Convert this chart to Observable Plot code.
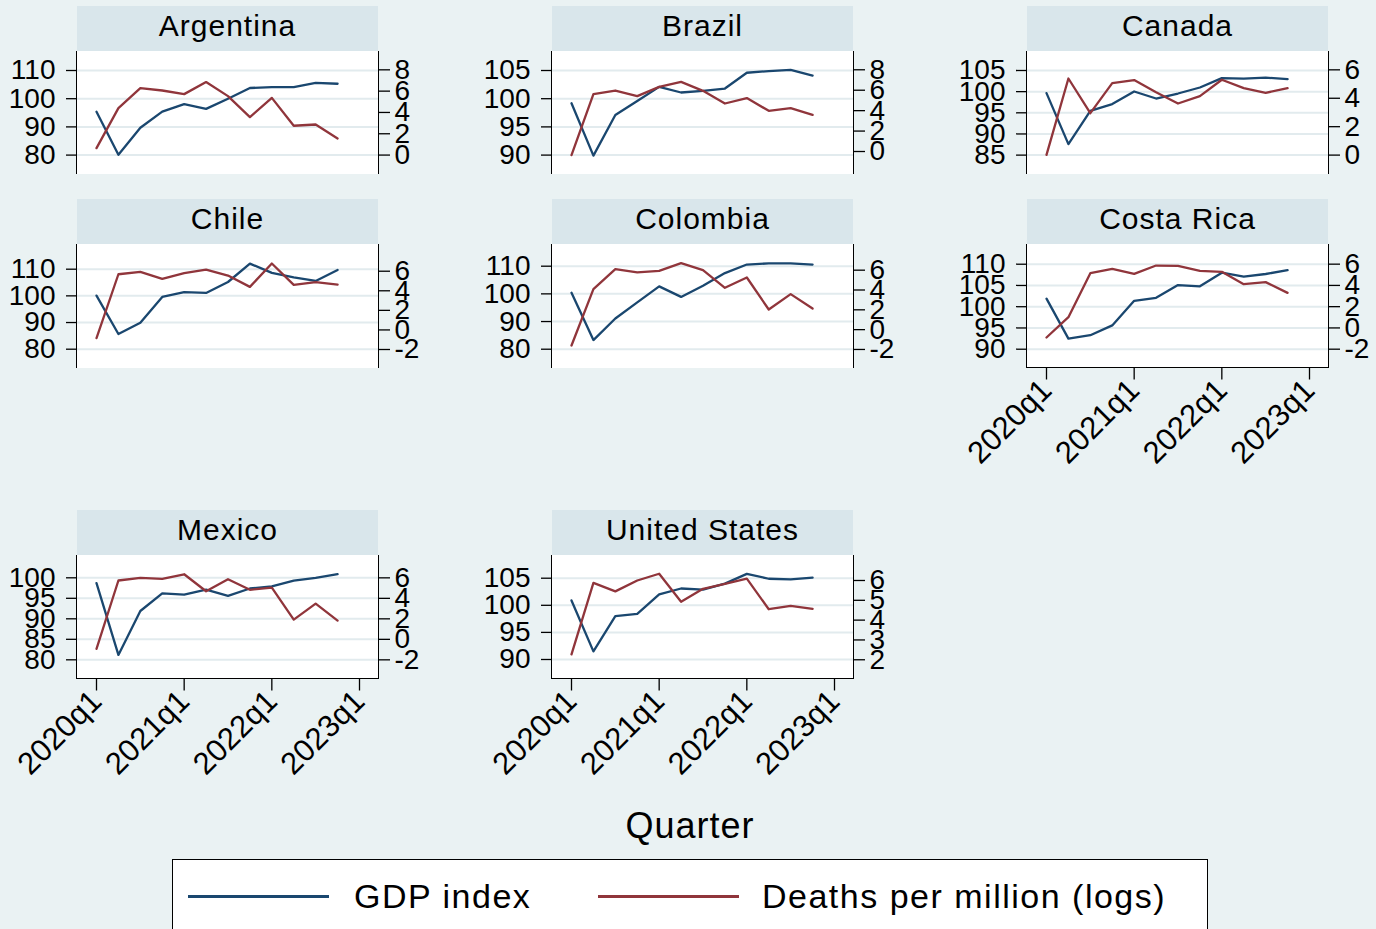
<!DOCTYPE html>
<html><head><meta charset="utf-8">
<script src="https://cdn.jsdelivr.net/npm/d3@7"></script>
<script src="https://cdn.jsdelivr.net/npm/@observablehq/plot@0.6"></script>
<style>
body{margin:0;background:#eaf2f3;font-family:"Liberation Sans",Arial,Helvetica,sans-serif;}
#chart{position:relative;width:1376px;height:929px;overflow:hidden;background:#eaf2f3;color:#000;}
.strip{position:absolute;background:#d9e6eb;text-align:center;font-size:30px;letter-spacing:1px;line-height:39px;white-space:nowrap;}
.region{position:absolute;background:#fff;box-sizing:border-box;border-left:1.3px solid #000;border-right:1.3px solid #000;}
.layer{position:absolute;}
.layer svg{overflow:visible;max-width:none !important;}
.txt{position:absolute;white-space:nowrap;}
.swatch{position:absolute;height:3px;}
</style></head><body><div id="chart"></div>
<script>
// ---- data ----
const quarters = ["2020q1","2020q2","2020q3","2020q4","2021q1","2021q2","2021q3","2021q4","2022q1","2022q2","2022q3","2022q4"];
const xTickLabels = ["2020q1","2021q1","2022q1","2023q1"];
const countries = ["Argentina","Brazil","Canada","Chile","Colombia","Costa Rica","Mexico","United States"];

const argentinaGdp    = [95.4, 80.1, 89.7, 95.4, 98.1, 96.4, 100.0, 103.8, 104.1, 104.1, 105.6, 105.3];
const argentinaDeaths = [0.65, 4.41, 6.28, 6.06, 5.72, 6.85, 5.53, 3.56, 5.37, 2.75, 2.87, 1.56];
const brazilGdp       = [99.2, 89.9, 97.1, 99.6, 102.1, 101.1, 101.4, 101.8, 104.6, 104.9, 105.1, 104.1];
const brazilDeaths    = [-0.36, 5.62, 5.97, 5.42, 6.33, 6.82, 5.94, 4.70, 5.23, 3.98, 4.25, 3.59];
const canadaGdp       = [99.66, 87.6, 95.47, 97.06, 100.04, 98.38, 99.56, 100.98, 103.2, 103.1, 103.3, 102.97];
const canadaDeaths    = [0.02, 5.39, 2.95, 5.06, 5.28, 4.43, 3.63, 4.15, 5.30, 4.71, 4.38, 4.71];
const chileGdp        = [100.1, 85.7, 89.9, 99.6, 101.4, 101.1, 105.2, 112.1, 108.6, 106.9, 105.6, 109.7];
const chileDeaths     = [-0.84, 5.69, 5.93, 5.21, 5.80, 6.17, 5.56, 4.40, 6.79, 4.60, 4.88, 4.64];
const colombiaGdp     = [100.4, 83.3, 91.1, 96.9, 102.7, 98.9, 102.9, 107.5, 110.6, 111.0, 111.0, 110.6];
const colombiaDeaths  = [-1.60, 4.08, 6.10, 5.77, 5.93, 6.71, 6.00, 4.22, 5.26, 2.03, 3.58, 2.13];
const costaRicaGdp    = [101.9, 92.5, 93.3, 95.6, 101.4, 102.1, 105.1, 104.8, 108.0, 107.1, 107.7, 108.6];
const costaRicaDeaths = [-0.90, 1.01, 5.15, 5.56, 5.09, 5.87, 5.84, 5.37, 5.28, 4.12, 4.31, 3.30];
const mexicoGdp       = [98.7, 81.2, 91.9, 96.2, 95.9, 97.1, 95.6, 97.4, 97.9, 99.3, 100.0, 100.9];
const mexicoDeaths    = [-0.93, 5.74, 6.00, 5.90, 6.35, 4.69, 5.86, 4.83, 5.05, 1.93, 3.49, 1.83];
const usGdp           = [100.9, 91.5, 98.0, 98.4, 102.0, 103.1, 102.9, 104.0, 105.8, 104.9, 104.8, 105.1];
const usDeaths        = [2.27, 5.88, 5.45, 6.00, 6.34, 4.93, 5.58, 5.83, 6.09, 4.55, 4.72, 4.57];

// axis ticks (left: GDP index, right: deaths per million, logs)
const gdpTicks = [[80,90,100,110],[90,95,100,105],[85,90,95,100,105],[80,90,100,110],[80,90,100,110],[90,95,100,105,110],[80,85,90,95,100],[90,95,100,105]];
const deathTicks = [[0,2,4,6,8],[0,2,4,6,8],[0,2,4,6],[-2,0,2,4,6],[-2,0,2,4,6],[-2,0,2,4,6],[-2,0,2,4,6],[2,3,4,5,6]];
// scale domains of the full plot region
const gdpDomains = [[72.94,116.74],[86.47,108.37],[80.30,109.49],[72.95,119.26],[73.21,117.84],[85.58,114.64],[75.32,105.44],[86.4,109.19]];
const deathDomains = [[-1.87,9.72],[-2.30,9.79],[-1.40,7.29],[-3.89,8.73],[-3.87,8.59],[-3.77,7.85],[-3.87,8.18],[1.03,7.26]];

const gdpSeries = [argentinaGdp, brazilGdp, canadaGdp, chileGdp, colombiaGdp, costaRicaGdp, mexicoGdp, usGdp];
const deathSeries = [argentinaDeaths, brazilDeaths, canadaDeaths, chileDeaths, colombiaDeaths, costaRicaDeaths, mexicoDeaths, usDeaths];

// ---- layout ----
const NAVY = "#1a476f", MAROON = "#90353b";
const colLeft = [77, 552, 1027];
const rowPlotTop = [50.7, 244.3, 555];
const PW = 301, PH = 123.5, HH = 45;
const ML = 80, MR = 70, MB = 120;
const withXAxis = new Set(["Costa Rica","Mexico","United States"]);
const FONT = '"Liberation Sans", Arial, Helvetica, sans-serif';

const qIndex = s => (+s.slice(0,4) - 2020) * 4 + (+s.slice(5) - 1);
const xTicks = xTickLabels.map(qIndex);
const xLabel = i => xTickLabels[xTicks.indexOf(i)];

const chart = document.getElementById("chart");
function add(cls, css, text) {
  const d = document.createElement("div");
  d.className = cls;
  Object.assign(d.style, css);
  if (text != null) d.textContent = text;
  chart.appendChild(d);
  return d;
}

countries.forEach((name, k) => {
  const col = k % 3, row = Math.floor(k / 3);
  const left = colLeft[col], top = rowPlotTop[row];
  const hasX = withXAxis.has(name);
  add("strip", {left: left + "px", top: (top - HH) + "px", width: PW + "px", height: HH + "px"}, name);
  add("region", {left: (left - 0.65) + "px", top: top + "px", width: (PW + 1.3) + "px", height: PH + "px",
    borderBottom: hasX ? "1.3px solid #000" : "none"});

  const gdp = gdpSeries[k].map((v, i) => ({q: qIndex(quarters[i]), v}));
  const deaths = deathSeries[k].map((v, i) => ({q: qIndex(quarters[i]), v}));
  const W = ML + PW + MR, H = PH + (hasX ? MB : 0);
  const common = {
    width: W, height: H,
    marginLeft: ML, marginRight: MR, marginTop: 0, marginBottom: hasX ? MB : 0,
    style: {background: "transparent", fontFamily: FONT, fontSize: "28px", color: "#000", overflow: "visible", maxWidth: "none"},
    x: {domain: [0, 12], insetLeft: 19, insetRight: 19, axis: null}
  };
  const p1 = Plot.plot({
    ...common,
    y: {domain: gdpDomains[k], axis: null},
    marks: [
      Plot.gridY(gdpTicks[k], {stroke: "#e2ebee", strokeOpacity: 1, strokeWidth: 2}),
      Plot.lineY(gdp, {x: "q", y: "v", stroke: NAVY, strokeWidth: 2.3}),
      Plot.axisY(gdpTicks[k], {anchor: "left", tickSize: 11, tickPadding: 11, strokeWidth: 1.3, label: null, tickFormat: d => String(d)}),
      hasX ? Plot.axisX(xTicks, {anchor: "bottom", tickSize: 12, tickPadding: 5, tickRotate: -45, fontSize: 31, strokeWidth: 1.3, label: null, tickFormat: xLabel}) : null
    ]
  });
  const p2 = Plot.plot({
    ...common,
    y: {domain: deathDomains[k], axis: null},
    marks: [
      Plot.lineY(deaths, {x: "q", y: "v", stroke: MAROON, strokeWidth: 2.3}),
      Plot.axisY(deathTicks[k], {anchor: "right", tickSize: 11, tickPadding: 5, strokeWidth: 1.3, label: null, tickFormat: d => String(d)})
    ]
  });
  [p1, p2].forEach(p => {
    const d = add("layer", {left: (left - ML) + "px", top: top + "px", width: W + "px", height: H + "px"});
    p.style.maxWidth = "none";
    d.appendChild(p);
  });
});

// x-axis title
add("txt", {left: "0px", width: "1380px", textAlign: "center", top: "808px", fontSize: "36px", letterSpacing: "1px", lineHeight: "36px"}, "Quarter");

// legend
add("txt", {left: "172px", top: "859px", width: "1036px", height: "90px", background: "#fff", border: "1.5px solid #000", boxSizing: "border-box"});
add("swatch", {left: "188px", top: "894.5px", width: "141px", background: NAVY});
add("txt", {left: "354px", top: "879px", fontSize: "34px", letterSpacing: "1.5px", lineHeight: "34px"}, "GDP index");
add("swatch", {left: "598px", top: "894.5px", width: "141px", background: MAROON});
add("txt", {left: "762px", top: "879px", fontSize: "34px", letterSpacing: "1.5px", lineHeight: "34px"}, "Deaths per million (logs)");
</script></body></html>
